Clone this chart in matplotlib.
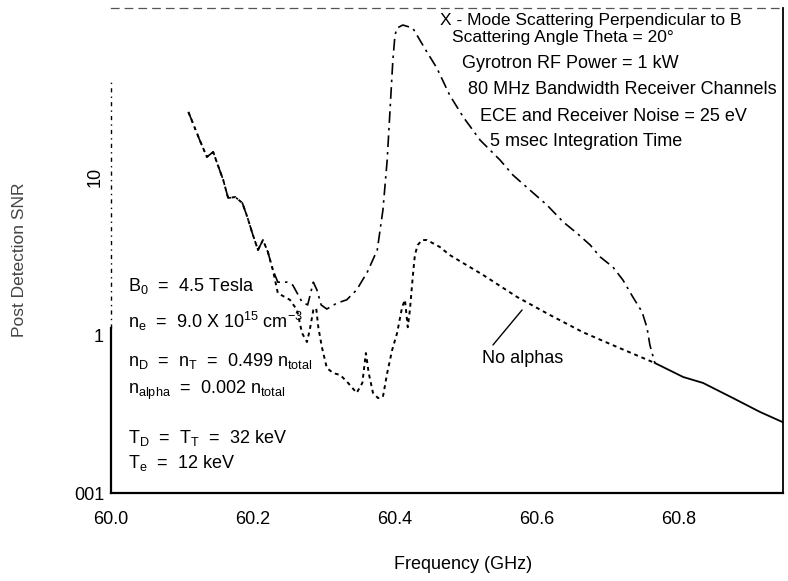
import matplotlib
matplotlib.use("Agg")
import matplotlib.pyplot as plt

# SNR vs frequency
freq_alpha = [60.109, 60.125, 60.135, 60.144, 60.149, 60.158, 60.165, 60.175, 60.185,
              60.192, 60.199, 60.207, 60.214, 60.221, 60.228, 60.235, 60.248, 60.256,
              60.269, 60.277, 60.285, 60.290, 60.296, 60.304, 60.318, 60.332, 60.346,
              60.361, 60.375, 60.383, 60.389, 60.393, 60.397, 60.400, 60.403, 60.411,
              60.425, 60.435, 60.445, 60.459, 60.477, 60.496, 60.520, 60.548, 60.566,
              60.590, 60.614, 60.637, 60.656, 60.675, 60.689, 60.707, 60.721, 60.735,
              60.748, 60.755, 60.759, 60.766]
snr_alpha = [25.8, 17.1, 13.4, 14.4, 12.4, 9.6, 7.36, 7.47, 6.85,
             5.58, 4.42, 3.45, 3.99, 3.35, 2.58, 2.16, 2.16, 2.07,
             1.62, 1.55, 2.16, 1.93, 1.55, 1.46, 1.59, 1.67, 1.93,
             2.50, 3.45, 6.18, 12.8, 26.5, 55.0, 79.2, 87.7, 91.6,
             87.7, 73.6, 61.8, 48.9, 33.0, 24.0, 17.1, 12.8, 10.3,
             8.27, 6.65, 5.19, 4.42, 3.71, 3.12, 2.69, 2.23, 1.74,
             1.40, 1.11, 0.865, 0.665]

freq_noalpha = [60.109, 60.125, 60.135, 60.144, 60.149, 60.158, 60.165, 60.175, 60.185,
                60.192, 60.199, 60.207, 60.214, 60.221, 60.228, 60.235, 60.252, 60.262,
                60.269, 60.276, 60.280, 60.285, 60.289, 60.292, 60.297, 60.304, 60.313,
                60.323, 60.334, 60.346, 60.354, 60.359, 60.363, 60.369, 60.376, 60.383,
                60.389, 60.396, 60.403, 60.410, 60.414, 60.418, 60.421, 60.425, 60.428,
                60.432, 60.438, 60.445, 60.463, 60.477, 60.524, 60.572, 60.618, 60.665,
                60.713, 60.766]
snr_noalpha = [25.8, 17.1, 13.4, 14.4, 12.4, 9.6, 7.36, 7.47, 6.85,
               5.58, 4.42, 3.45, 3.99, 3.35, 2.58, 1.84, 1.67, 1.44,
               1.03, 0.903, 1.08, 1.44, 1.48, 1.12, 0.839, 0.618, 0.574,
               0.558, 0.497, 0.430, 0.497, 0.769, 0.574, 0.430, 0.399, 0.406,
               0.574, 0.804, 1.03, 1.50, 1.67, 1.12, 1.44, 2.33, 3.21,
               3.71, 3.99, 3.99, 3.61, 3.21, 2.40, 1.74, 1.34, 1.04,
               0.839, 0.665]

# above ~60.77 GHz both cases coincide
freq_both = [60.766, 60.806, 60.834, 60.876, 60.914, 60.946]
snr_both = [0.665, 0.542, 0.497, 0.399, 0.326, 0.281]

xticks = [60.0, 60.2, 60.4, 60.6, 60.8]
xticklabels = ["60.0", "60.2", "60.4", "60.6", "60.8"]
yticks = [0.1, 1, 10]
yticklabels = ["001", "1", "10"]

conditions = [
    "X - Mode Scattering Perpendicular to B",
    "Scattering Angle Theta = 20\u00b0",
    "Gyrotron RF Power = 1 kW",
    "80 MHz Bandwidth Receiver Channels",
    "ECE and Receiver Noise = 25 eV",
    "5 msec Integration Time",
]
plasma = [
    r"B$_\mathrm{0}$  =  4.5 Tesla",
    r"n$_\mathrm{e}$  =  9.0 X 10$^\mathrm{15}$ cm$^\mathrm{-3}$",
    r"n$_\mathrm{D}$  =  n$_\mathrm{T}$  =  0.499 n$_\mathrm{total}$",
    r"n$_\mathrm{alpha}$  =  0.002 n$_\mathrm{total}$",
    r"T$_\mathrm{D}$  =  T$_\mathrm{T}$  =  32 keV",
    r"T$_\mathrm{e}$  =  12 keV",
]

plt.rcParams["font.family"] = ["Liberation Sans", "DejaVu Sans"]
plt.rcParams["mathtext.fontset"] = "custom"
plt.rcParams["mathtext.rm"] = "Liberation Sans"
plt.rcParams["mathtext.it"] = "Liberation Sans:italic"

fig = plt.figure(figsize=(7.88, 5.81), dpi=100)
ax = fig.add_axes([111 / 788, 88 / 581, 672 / 788, 485 / 581])

ax.plot(freq_alpha, snr_alpha, color="black", lw=1.2, linestyle=(0, (7, 3, 1.5, 3)))
ax.plot(freq_noalpha, snr_noalpha, color="black", lw=1.4, linestyle=(0, (2, 2)))
ax.plot(freq_both, snr_both, color="black", lw=1.3)

ax.set_yscale("log")
ax.set_xlim(60.0, 60.9465)
ax.set_ylim(0.1, 117.4)
ax.set_xticks(xticks)
ax.set_xticklabels(xticklabels)
ax.set_yticks(yticks)
ax.set_yticklabels(yticklabels)
ax.minorticks_off()
ax.tick_params(axis="x", length=0, pad=13, labelsize=13)
ax.tick_params(axis="y", length=0, pad=5, labelsize=13)
lab10 = ax.get_yticklabels()[2]
lab10.set_rotation(90)
lab10.set_va("center")

ax.set_xlabel("Frequency (GHz)", fontsize=13)
ax.xaxis.set_label_coords(0.524, -0.13)
ax.set_ylabel("Post Detection SNR", fontsize=12.5, color="#444444")
ax.yaxis.set_label_coords(-0.125, 0.48)

# scanned frame: solid bottom/right, faint dashed top, broken upper-left edge
ax.spines["bottom"].set_linewidth(1.6)
ax.spines["right"].set_linewidth(1.3)
ax.spines["top"].set_linewidth(0.9)
ax.spines["top"].set_linestyle((0, (6, 5)))
ax.spines["top"].set_color("#555555")
ax.spines["left"].set_visible(False)
ax.plot([0, 0], [0, 0.34], transform=ax.transAxes, color="black", lw=1.6, clip_on=False)
ax.plot([0, 0], [0.34, 0.85], transform=ax.transAxes, color="black", lw=1.0,
        linestyle=(0, (3, 3, 1, 3)), clip_on=False)

cond_x = [0.4896, 0.5074, 0.5223, 0.5312, 0.5491, 0.5640]
cond_y = [0.9650, 0.9290, 0.8763, 0.8227, 0.7670, 0.7155]
cond_size = [12.5, 12.5, 13, 13, 13, 13]
for s, x, y, fs in zip(conditions, cond_x, cond_y, cond_size):
    ax.text(x, y, s, transform=ax.transAxes, fontsize=fs, va="baseline", ha="left")

plasma_y = [0.4165, 0.3402, 0.2619, 0.2041, 0.1031, 0.0515]
for s, y in zip(plasma, plasma_y):
    ax.text(0.0253, y, s, transform=ax.transAxes, fontsize=13, va="baseline", ha="left")

ax.text(0.5521, 0.268, "No alphas", transform=ax.transAxes, fontsize=13,
        va="baseline", ha="left")
ax.annotate("", xy=(60.579, 1.44), xytext=(60.538, 0.865),
            arrowprops=dict(arrowstyle="-", lw=1.0, color="black",
                            shrinkA=0, shrinkB=0))

fig.savefig("out.png", dpi=100)
